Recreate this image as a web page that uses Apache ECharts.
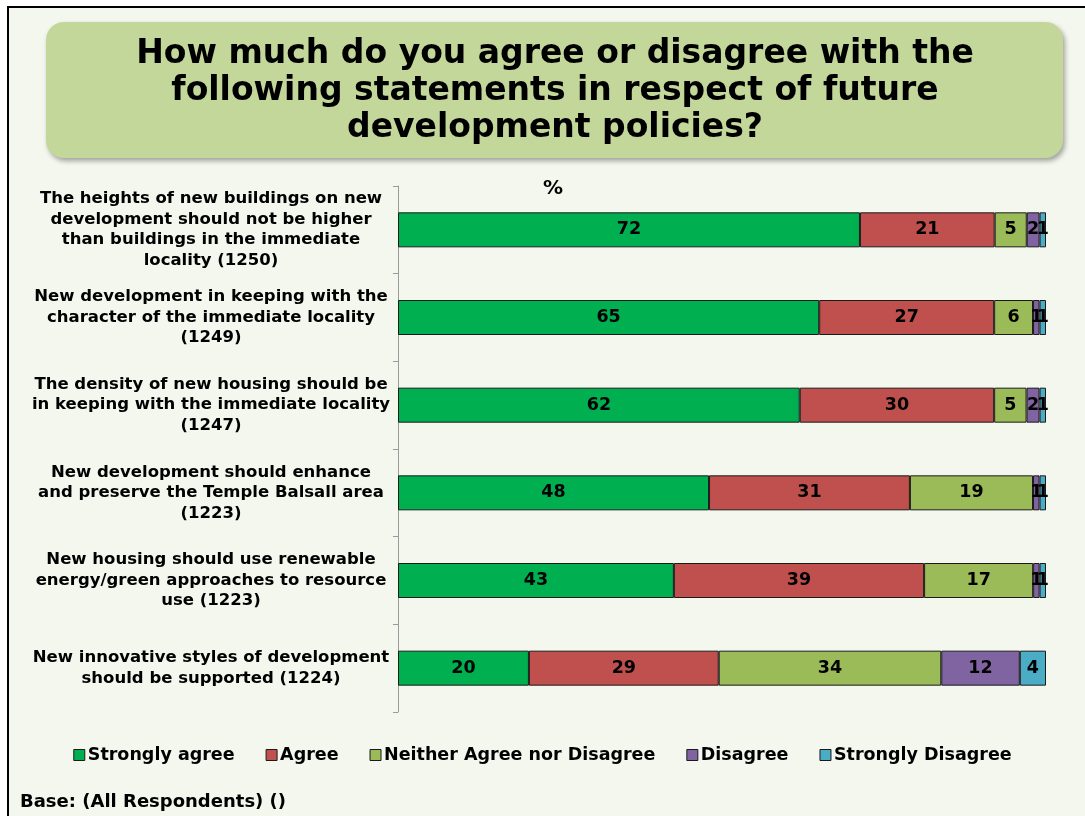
<!DOCTYPE html>
<html>
<head>
<meta charset="utf-8">
<title>Future development policies</title>
<script src="https://cdn.jsdelivr.net/npm/echarts@6/dist/echarts.min.js"></script>
<style>
  html, body { margin: 0; padding: 0; background: #ffffff; }
  #chart { width: 1085px; height: 816px; }
</style>
</head>
<body>
<div id="chart"></div>
<script>
// Statements (row labels, top to bottom)
const statements = [
  'The heights of new buildings on new\ndevelopment should not be higher\nthan buildings in the immediate\nlocality (1250)',
  'New development in keeping with the\ncharacter of the immediate locality\n(1249)',
  'The density of new housing should be\nin keeping with the immediate locality\n(1247)',
  'New development should enhance\nand preserve the Temple Balsall area\n(1223)',
  'New housing should use renewable\nenergy/green approaches to resource\nuse (1223)',
  'New innovative styles of development\nshould be supported (1224)'
];

// Response categories
const responses = ['Strongly agree', 'Agree', 'Neither Agree nor Disagree', 'Disagree', 'Strongly Disagree'];

// Percentages per response, one value per statement
const stronglyAgree    = [72, 65, 62, 48, 43, 20];
const agree            = [21, 27, 30, 31, 39, 29];
const neither          = [5, 6, 5, 19, 17, 34];
const disagree         = [2, 1, 2, 1, 1, 12];
const stronglyDisagree = [1, 1, 1, 1, 1, 4];

const responseValues = [stronglyAgree, agree, neither, disagree, stronglyDisagree];
const colors = ['#00b050', '#c0504d', '#9bbb59', '#8064a2', '#4bacc6'];

// Each row is drawn as a 100% bar: segment length = share of the row total
const rowTotals = statements.map((_, i) => responseValues.reduce((s, arr) => s + arr[i], 0));

const FONT = '"DejaVu Sans", Verdana, sans-serif';

const series = responses.map((name, k) => ({
  name: name,
  type: 'bar',
  stack: 'total',
  barWidth: 35,
  itemStyle: { color: colors[k], borderColor: '#1a1a1a', borderWidth: 1 },
  label: {
    show: true,
    position: 'inside',
    color: '#000',
    fontFamily: FONT,
    fontWeight: 'bold',
    fontSize: 17.5,
    formatter: p => String(p.data.raw)
  },
  emphasis: { disabled: true },
  data: responseValues[k].map((v, i) => ({ value: v / rowTotals[i] * 100, raw: v }))
}));

const chart = echarts.init(document.getElementById('chart'), null, { renderer: 'canvas' });

chart.setOption({
  backgroundColor: '#ffffff',
  animation: false,
  textStyle: { fontFamily: FONT },
  graphic: [
    {
      type: 'rect', z: -10,
      shape: { x: 8, y: 7, width: 1100, height: 900 },
      style: { fill: '#f4f7ee', stroke: '#000', lineWidth: 2 }
    },
    {
      type: 'rect', z: -5,
      shape: { x: 46, y: 22, width: 1017, height: 136, r: 18 },
      style: {
        fill: '#c4d79b',
        shadowBlur: 5, shadowOffsetX: 2, shadowOffsetY: 3,
        shadowColor: 'rgba(0,0,0,0.35)'
      }
    },
    {
      type: 'text', z: 5,
      x: 555, y: 91,
      style: {
        text: 'How much do you agree or disagree with the\nfollowing statements in respect of future\ndevelopment policies?',
        font: 'bold 33px ' + FONT,
        lineHeight: 37,
        fill: '#000',
        align: 'center',
        verticalAlign: 'middle'
      }
    },
    {
      type: 'text', z: 5,
      x: 553, y: 189,
      style: { text: '%', font: 'bold 20px ' + FONT, fill: '#000', align: 'center', verticalAlign: 'middle' }
    },
    {
      type: 'text', z: 5,
      x: 20, y: 802,
      style: { text: 'Base: (All Respondents) ()', font: 'bold 18px ' + FONT, fill: '#000', align: 'left', verticalAlign: 'middle' }
    }
  ],
  legend: {
    data: responses,
    left: 'center',
    top: 741,
    icon: 'rect',
    itemWidth: 11,
    itemHeight: 11,
    itemGap: 31,
    itemStyle: { borderColor: '#1a1a1a', borderWidth: 1 },
    textStyle: { fontFamily: FONT, fontWeight: 'bold', fontSize: 17.5, color: '#000', padding: [0, 0, 0, -2] },
    selectedMode: false
  },
  grid: { left: 398, right: 39, top: 186, bottom: 104, containLabel: false },
  xAxis: {
    type: 'value',
    min: 0,
    max: 100,
    show: false
  },
  yAxis: {
    type: 'category',
    inverse: true,
    data: statements,
    axisLine: { show: true, lineStyle: { color: '#9a9a9a', width: 1 } },
    axisTick: { show: true, length: 5, lineStyle: { color: '#9a9a9a' } },
    axisLabel: {
      align: 'center',
      margin: 187,
      color: '#000',
      fontFamily: FONT,
      fontWeight: 'bold',
      fontSize: 16.5,
      lineHeight: 20.5
    }
  },
  series: series
});
</script>
</body>
</html>
